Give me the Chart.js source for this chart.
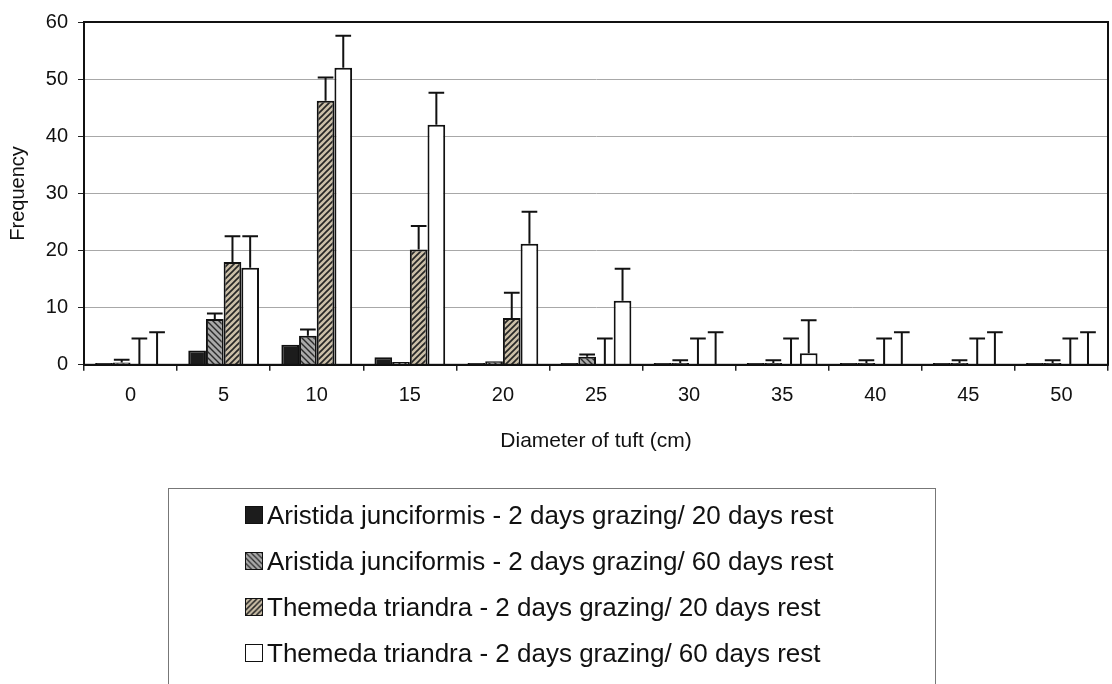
<!DOCTYPE html>
<html>
<head>
<meta charset="utf-8">
<script src="https://cdn.jsdelivr.net/npm/chart.js@4.4.1/dist/chart.umd.min.js"></script>
<style>
  body { margin: 0; background: #fff; font-family: "Liberation Sans", Arial, sans-serif; }
  #wrap { position: absolute; left: 0; top: 0; width: 1112px; height: 455px; }
  #legend { position: absolute; left: 168px; top: 488px; width: 766px; height: 220px; border: 1px solid #777; border-bottom: none; }
  .item { position: absolute; left: 76px; height: 30px; display: flex; align-items: center; font-size: 26px; color: #111; white-space: nowrap; }
  .item canvas { width: 18px; height: 18px; margin-right: 4px; border: 1px solid #111; box-sizing: border-box; }
</style>
</head>
<body>
<div id="wrap"><canvas id="tuftChart"></canvas></div>
<div id="legend"></div>
<script>
// tuft diameter classes (cm)
const diameters = ['0', '5', '10', '15', '20', '25', '30', '35', '40', '45', '50'];

const seriesNames = [
  'Aristida junciformis - 2 days grazing/ 20 days rest',
  'Aristida junciformis - 2 days grazing/ 60 days rest',
  'Themeda triandra - 2 days grazing/ 20 days rest',
  'Themeda triandra - 2 days grazing/ 60 days rest',
];

// frequencies
const ajRest20 = [0.3, 2.5, 3.5, 1.3, 0.3, 0.3, 0.3, 0.3, 0.3, 0.3, 0.3];
const ajRest60 = [0.4, 8, 5.1, 0.5, 0.6, 1.4, 0.3, 0.3, 0.3, 0.3, 0.3];
const ttRest20 = [0, 18, 46.2, 20.2, 8.2, 0, 0, 0, 0, 0, 0];
const ttRest60 = [0, 17, 52, 42, 21.2, 11.2, 0, 2, 0, 0, 0];

// upper error bars (amount above the mean)
const ajRest20Err = [0, 0, 0, 0, 0, 0, 0, 0, 0, 0, 0];
const ajRest60Err = [0.5, 1, 1.1, 0, 0, 0.4, 0.5, 0.5, 0.5, 0.5, 0.5];
const ttRest20Err = [4.6, 4.5, 4.1, 4.1, 4.4, 4.6, 4.6, 4.6, 4.6, 4.6, 4.6];
const ttRest60Err = [5.7, 5.5, 5.6, 5.6, 5.6, 5.6, 5.7, 5.8, 5.7, 5.7, 5.7];

const yTicks = [0, 10, 20, 30, 40, 50, 60];

function makePattern(kind) {
  const c = document.createElement('canvas');
  c.width = 6; c.height = 6;
  const g = c.getContext('2d');
  if (kind === 'back') {
    g.fillStyle = '#a9a9a9';
    g.fillRect(0, 0, 6, 6);
    g.strokeStyle = '#2a2a2a';
    g.lineWidth = 1.4;
    g.beginPath();
    g.moveTo(-1, -1); g.lineTo(7, 7);
    g.moveTo(-1, 5); g.lineTo(1, 7);
    g.moveTo(5, -1); g.lineTo(7, 1);
    g.stroke();
  } else {
    g.fillStyle = '#cbbfa8';
    g.fillRect(0, 0, 6, 6);
    g.strokeStyle = '#262626';
    g.lineWidth = 1.7;
    g.beginPath();
    g.moveTo(-1, 7); g.lineTo(7, -1);
    g.moveTo(-1, 1); g.lineTo(1, -1);
    g.moveTo(5, 7); g.lineTo(7, 5);
    g.stroke();
  }
  return g.createPattern(c, 'repeat');
}

const fills = ['#1c1c1c', makePattern('back'), makePattern('fwd'), '#ffffff'];

const errorBars = {
  id: 'errorBars',
  afterDatasetsDraw(chart) {
    const ctx = chart.ctx, y = chart.scales.y;
    ctx.save();
    ctx.strokeStyle = '#111';
    ctx.lineWidth = 2;
    chart.data.datasets.forEach((ds, i) => {
      const meta = chart.getDatasetMeta(i);
      meta.data.forEach((bar, j) => {
        const e = ds.err[j];
        if (!e) return;
        const base = y.getPixelForValue(ds.data[j]);
        const top = y.getPixelForValue(ds.data[j] + e);
        const half = bar.width / 2 - 1;
        ctx.beginPath();
        ctx.moveTo(bar.x, base);
        ctx.lineTo(bar.x, top);
        ctx.moveTo(bar.x - half, top);
        ctx.lineTo(bar.x + half, top);
        ctx.stroke();
      });
    });
    ctx.restore();
  }
};

const plotBox = {
  id: 'plotBox',
  afterDraw(chart) {
    const { ctx, chartArea: a } = chart;
    ctx.save();
    ctx.strokeStyle = '#111';
    ctx.lineWidth = 2;
    ctx.strokeRect(a.left, a.top, a.right - a.left, a.bottom - a.top);
    ctx.restore();
  }
};

const values = [ajRest20, ajRest60, ttRest20, ttRest60];
const errs = [ajRest20Err, ajRest60Err, ttRest20Err, ttRest60Err];

new Chart(document.getElementById('tuftChart'), {
  type: 'bar',
  data: {
    labels: diameters,
    datasets: seriesNames.map((name, i) => ({
      label: name,
      data: values[i],
      err: errs[i],
      backgroundColor: fills[i],
      borderColor: '#111',
      borderWidth: 2,
      barPercentage: 1,
      categoryPercentage: 0.76,
    })),
  },
  options: {
    responsive: true,
    maintainAspectRatio: false,
    animation: false,
    layout: { padding: { top: 22, right: 4, bottom: 1, left: 0 } },
    plugins: { legend: { display: false }, tooltip: { enabled: false } },
    scales: {
      x: {
        grid: { drawOnChartArea: false, tickLength: 6, color: '#222', lineWidth: 1.5 },
        border: { color: '#111', width: 2 },
        ticks: { color: '#111', padding: 13, font: { family: 'Liberation Sans', size: 20 } },
        title: { display: true, text: 'Diameter of tuft (cm)', color: '#111', padding: { top: 8, bottom: 0 },
                 font: { family: 'Liberation Sans', size: 21 } },
      },
      y: {
        min: 0, max: 60,
        afterBuildTicks: s => { s.ticks = yTicks.map(v => ({ value: v })); },
        afterFit: s => { s.width = 84; },
        grid: { color: '#a8a8a8', lineWidth: 1, tickColor: '#222', tickLength: 6 },
        border: { color: '#111', width: 2 },
        ticks: { color: '#111', padding: 10, font: { family: 'Liberation Sans', size: 20 } },
        title: { display: true, text: 'Frequency', color: '#111', padding: { top: 6, bottom: 0 },
                 font: { family: 'Liberation Sans', size: 20 } },
      },
    },
  },
  plugins: [errorBars, plotBox],
});

// legend with the same fills
const legendEl = document.getElementById('legend');
const rowTops = [11, 57, 103, 149];
seriesNames.forEach((name, i) => {
  const row = document.createElement('div');
  row.className = 'item';
  row.style.top = rowTops[i] + 'px';
  const sw = document.createElement('canvas');
  sw.width = 18; sw.height = 18;
  const sctx = sw.getContext('2d');
  sctx.fillStyle = fills[i];
  sctx.fillRect(0, 0, 18, 18);
  row.appendChild(sw);
  const txt = document.createElement('span');
  txt.textContent = name;
  row.appendChild(txt);
  legendEl.appendChild(row);
});
</script>
</body>
</html>
